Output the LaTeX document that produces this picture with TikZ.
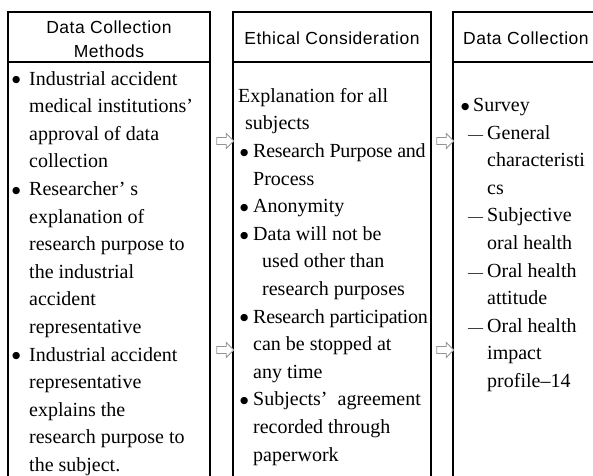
\documentclass[tikz,border=0pt]{standalone}
\usepackage{fontspec}
\setmainfont{Liberation Serif}
\newfontfamily\hdfont[LetterSpace=3]{Liberation Sans}
\newfontfamily\symfont{DejaVu Sans}
\usetikzlibrary{shapes.arrows}
\newcommand\dotmark{\raisebox{2.2pt}{\symfont\fontsize{9.5}{9.5}\selectfont ●}}
\newcommand\bulA{\hspace*{1pt}\makebox[17pt][l]{\dotmark}}
\newcommand\indA{\hspace*{18pt}}
\newcommand\bulB{\hspace*{2pt}\makebox[13pt][l]{\dotmark}}
\newcommand\indB{\hspace*{15pt}}
\newcommand\bulC{\makebox[12pt][l]{\dotmark}}
\newcommand\dashC{\hspace*{7pt}\makebox[19pt][l]{{\fontsize{15}{15}\selectfont —}}}
\newcommand\indC{\hspace*{26pt}}
\newcommand\tight[1]{{\addfontfeature{LetterSpace=-1.2}#1}}
\begin{document}
\begin{tikzpicture}[x=1pt,y=-1pt,
  colbox/.style={draw, line width=2.4pt, outer sep=0pt, inner sep=0pt, anchor=north west, minimum height=480pt},
  divline/.style={line width=2.4pt},
  hdtext/.style={font=\hdfont\fontsize{17.5}{24}\selectfont, align=center, inner sep=0pt},
  body/.style={align=left, inner sep=0pt, anchor=north west, font=\fontsize{20}{27.6}\selectfont},
  harrow/.style={single arrow, draw=gray!85, fill=white, line width=0.9pt, minimum height=17pt, minimum width=15pt, single arrow head extend=4pt, inner sep=3pt}]
\useasboundingbox (0,0) rectangle (593,475);
\clip (0,0) rectangle (593,475);
\fill[white] (0,0) rectangle (593,475);
% boxes
\node[colbox, minimum width=202pt] (b1) at (8,12) {};
\node[colbox, minimum width=198pt] (b2) at (233,12) {};
\node[colbox, minimum width=210pt] (b3) at (453,12) {};
\coordinate (hd) at (0,62);
\draw[divline] (b1.west |- hd) -- (b1.east |- hd);
\draw[divline] (b2.west |- hd) -- (b2.east |- hd);
\draw[divline] (b3.west |- hd) -- (b3.east |- hd);
% headers
\node[hdtext] (h1) at (109,39) {Data Collection\\Methods};
\node[hdtext] (h2) at (332,38) {Ethical Consideration};
\node[hdtext, anchor=west] (h3) at (463,38) {Data Collection};
% arrows
\node[harrow] (a1) at (223.5,141) {};
\node[harrow] (a2) at (223.5,350) {};
\node[harrow] (a3) at (443.5,141) {};
\node[harrow] (a4) at (443.5,350) {};
% bodies
\node[body] (t1) at (11,71) {%
\bulA Industrial accident\\
\indA medical institutions’\\
\indA approval of data\\
\indA collection\\
\bulA Researcher’ s\\
\indA explanation of\\
\indA research purpose to\\
\indA the industrial\\
\indA accident\\
\indA representative\\
\bulA Industrial accident\\
\indA representative\\
\indA explains the\\
\indA research purpose to\\
\indA the subject.};
\node[body] (t2) at (238,88) {%
Explanation for all\\
\hspace*{7pt}subjects\\
\bulB \tight{Research Purpose and}\\
\indB Process\\
\bulB Anonymity\\
\bulB Data will not be\\
\hspace*{24pt}used other than\\
\hspace*{24pt}research purposes\\
\bulB \tight{Research participation}\\
\indB can be stopped at\\
\indB any time\\
\bulB Subjects’\ \ agreement\\
\indB recorded through\\
\indB paperwork};
\node[body] (t3) at (461,98) {%
\bulC Survey\\
\dashC General\\
\indC characteristi\\
\indC cs\\
\dashC Subjective\\
\indC oral health\\
\dashC Oral health\\
\indC attitude\\
\dashC Oral health\\
\indC impact\\
\indC profile–14};
\end{tikzpicture}
\end{document}
